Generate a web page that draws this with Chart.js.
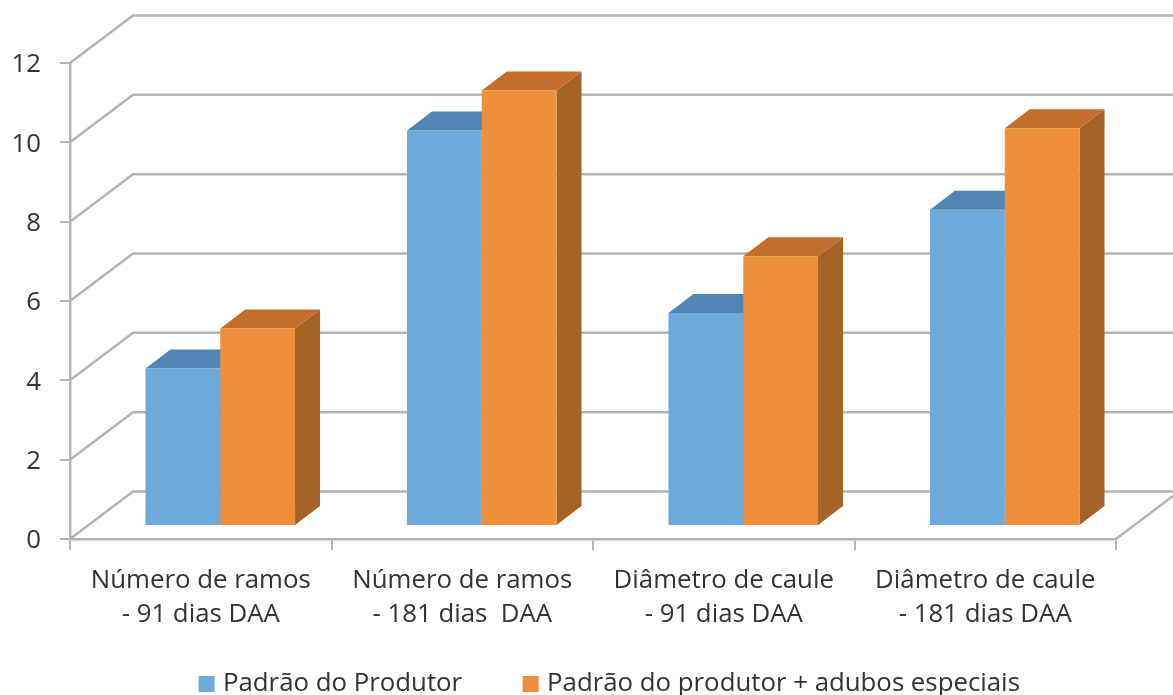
<!DOCTYPE html>
<html><head><meta charset="utf-8">
<style>html,body{margin:0;padding:0;background:#fff;overflow:hidden}#w{position:absolute;left:0;top:0;width:1173px;height:695px}canvas{filter:blur(0.5px)}</style>
<script src="https://cdn.jsdelivr.net/npm/chart.js@4/dist/chart.umd.min.js"></script>
</head><body><div id="w"><canvas id="c" width="1173" height="695"></canvas></div>
<script>
const categories = [["Número de ramos","- 91 dias DAA"],["Número de ramos","- 181 dias  DAA"],["Diâmetro de caule","- 91 dias DAA"],["Diâmetro de caule","- 181 dias DAA"]];
const produtor = [3.97, 9.97, 5.37, 7.97];
const adubos = [4.98, 10.98, 6.8, 10.03];
const seriesNames = ["Padrão do Produtor","Padrão do produtor + adubos especiais"];
const GRID = "#b4b4b4", TEXT = "#333333", FONT = "'Open Sans'", FS = 25.8;
const WALL = {x:63, y:-47.5}, BAR = {x:19.5, y:-13}, DEPTH = {x:25, y:-19};
const palette = [
  {front:"#6cabdc", top:"#5086b3", side:"#4a7ea8"},
  {front:"#ef8f3b", top:"#c46e2b", side:"#a66326"}
];
const LEGEND_PAD = 65, LEGEND_CX = 611.5, LEGEND_CY = 684, BOTTOM = 539;

function poly(ctx, pts, fill){
  ctx.beginPath(); pts.forEach((p,i)=> i?ctx.lineTo(p[0],p[1]):ctx.moveTo(p[0],p[1])); ctx.closePath();
  ctx.fillStyle = fill; ctx.fill();
}
const threeD = {
  id:"threeD",
  afterLayout(chart){
    const l = chart.legend, w = l.right - l.left, h = l.bottom - l.top;
    l.left = LEGEND_CX - w/2; l.right = LEGEND_CX + w/2;
    l.top = LEGEND_CY - FS/2 - LEGEND_PAD; l.bottom = l.top + h;
    chart.scales.x.bottom = 660;
  },
  beforeDatasetsDraw(chart){
    const ctx = chart.ctx, {x:xs, y:ys} = chart.scales;
    ctx.save();
    ctx.strokeStyle = GRID; ctx.lineWidth = 2.5; ctx.lineCap = "butt"; ctx.lineJoin = "miter";
    ys.ticks.forEach(t=>{
      const y = ys.getPixelForValue(t.value);
      ctx.beginPath(); ctx.moveTo(xs.left,y); ctx.lineTo(xs.left+WALL.x,y+WALL.y); ctx.lineTo(xs.right+WALL.x,y+WALL.y); ctx.stroke();
    });
    ctx.beginPath(); ctx.moveTo(xs.right,ys.bottom); ctx.lineTo(xs.right+WALL.x,ys.bottom+WALL.y); ctx.stroke();
    chart.data.datasets.forEach((ds,i)=>{
      const c = palette[i];
      chart.getDatasetMeta(i).data.forEach(el=>{
        const l = el.x-el.width/2+BAR.x, r = el.x+el.width/2+BAR.x, t = el.y+BAR.y, b = el.base+BAR.y;
        poly(ctx,[[r,t],[r+DEPTH.x,t+DEPTH.y],[r+DEPTH.x,b+DEPTH.y],[r,b]],c.side);
        poly(ctx,[[l,t],[l+DEPTH.x,t+DEPTH.y],[r+DEPTH.x,t+DEPTH.y],[r,t]],c.top);
      });
    });
    ctx.restore();
    ctx.save();
    ctx.translate(BAR.x,BAR.y);
  },
  afterDatasetsDraw(chart){ chart.ctx.restore(); }
};
new Chart(document.getElementById("c"),{
  type:"bar",
  data:{labels:categories,datasets:[
    {label:seriesNames[0],data:produtor,backgroundColor:palette[0].front,clip:false},
    {label:seriesNames[1],data:adubos,backgroundColor:palette[1].front,clip:false}
  ]},
  options:{
    responsive:false,animation:false,
    layout:{padding:{left:0,top:63,right:57,bottom:0}},
    datasets:{bar:{barPercentage:1,categoryPercentage:0.572}},
    plugins:{
      tooltip:{enabled:false},
      legend:{position:"bottom",labels:{
        color:TEXT,font:{family:FONT,size:FS},padding:LEGEND_PAD,boxWidth:7,boxHeight:7,
        generateLabels:ch=>ch.data.datasets.map((d,i)=>({text:d.label,fillStyle:d.backgroundColor,strokeStyle:d.backgroundColor,lineWidth:9,datasetIndex:i,fontColor:TEXT}))
      }}
    },
    scales:{
      x:{
        afterFit(s){ s.height = Math.max(0,695-BOTTOM-s.chart.legend.height); },
        border:{color:GRID,width:2.5},
        grid:{offset:true,drawOnChartArea:false,drawTicks:true,tickLength:11,color:GRID,lineWidth:2},
        ticks:{color:TEXT,font:{family:FONT,size:FS,lineHeight:1.32},padding:14,maxRotation:0,minRotation:0,autoSkip:false}
      },
      y:{
        min:0,max:12,
        afterFit(s){ s.width = 70; },
        border:{color:GRID,width:2.5},
        grid:{drawOnChartArea:false,tickLength:10,color:GRID,lineWidth:2},
        ticks:{stepSize:2,color:TEXT,font:{family:FONT,size:FS},padding:19,labelOffset:2}
      }
    }
  },
  plugins:[threeD]
});
</script></body></html>
